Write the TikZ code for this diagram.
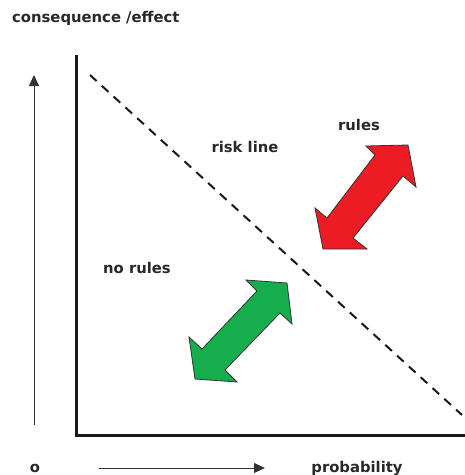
\documentclass[tikz,border=0pt]{standalone}
\usepackage{fontspec}
\setmainfont{DejaVu Sans}
\usetikzlibrary{arrows.meta}
\definecolor{txt}{RGB}{40,40,40}
\definecolor{redarr}{RGB}{237,28,36}
\definecolor{greenarr}{RGB}{22,173,76}
\begin{document}
\begin{tikzpicture}[x=1pt,y=-1pt,
  lbl/.style={font=\bfseries\fontsize{14.8}{16}\selectfont, text=txt, inner sep=0pt},
  axis/.style={line width=3pt, black!90},
  thinarrow/.style={line width=0.9pt, black!80, -{Triangle[length=11pt,width=10pt]}},
  riskline/.style={line width=2pt, dash pattern=on 9pt off 7pt, black!90},
  bigarrow/.style={draw=black!80, line width=0.8pt, line join=miter}]
\useasboundingbox (0,0) rectangle (465,475);
% labels
\node[lbl, anchor=west] (ylab) at (12,18) {consequence /effect};
\node[lbl] (origin) at (35,468) {o};
\node[lbl] (xlab) at (357,468) {probability};
\node[lbl] (risk) at (245,147) {risk line};
\node[lbl] (rules) at (359,125) {rules};
\node[lbl] (norules) at (137,268) {no rules};
% axes
\coordinate (top) at (76,55);
\coordinate (corner) at (76,435);
\coordinate (right) at (466,435);
\draw[axis] (top) -- (corner) -- (right);
% thin arrows
\coordinate (ys) at (34,425);
\coordinate (ye) at (34,75);
\draw[thinarrow] (ys) -- (ye);
\coordinate (xs) at (99,468);
\coordinate (xe) at (265,468);
\draw[thinarrow] (xs) -- (xe);
% risk line
\coordinate (rs) at (90,75);
\coordinate (re) at (462,415);
\draw[riskline] (rs) -- (re);
% red arrow
\draw[bigarrow, fill=redarr] (408,145) -- (366,146) -- (375,155) -- (327,218) -- (315,208)
  -- (323,249) -- (367,249) -- (353,238) -- (403,176) -- (416,187) -- cycle;
% green arrow
\draw[bigarrow, fill=greenarr] (287,283) -- (246,280) -- (257,291) -- (202,349) -- (189,337)
  -- (195,379) -- (237,382) -- (225,370) -- (280,313) -- (292,324) -- cycle;
\end{tikzpicture}
\end{document}
